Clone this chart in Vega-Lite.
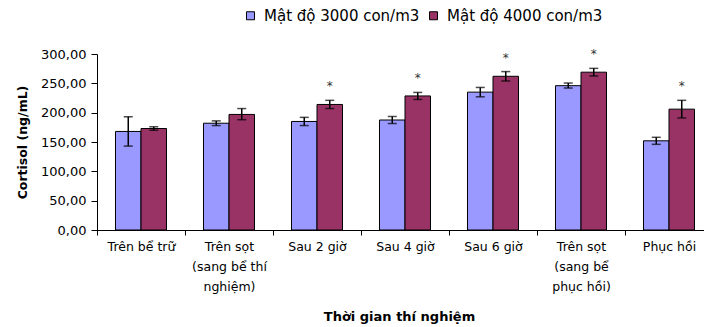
{
  "$schema": "https://vega.github.io/schema/vega-lite/v6.json",
  "width": 607,
  "height": 176,
  "autosize": {"type": "none"},
  "padding": {"left": 97, "top": 54, "right": 0, "bottom": 97},
  "background": "white",
  "config": {
    "view": {"stroke": null},
    "font": "DejaVu Sans",
    "axisY": {
      "grid": false,
      "domainColor": "black",
      "tickColor": "black",
      "tickSize": 6,
      "labelPadding": 5,
      "labelFontSize": 13,
      "labelColor": "black",
      "labelOverlap": false,
      "titleFontSize": 12.5,
      "titleFontWeight": "bold",
      "titleColor": "black",
      "titleX": -68,
      "titleY": 88
    }
  },
  "data": {
    "values": [
      {"time": "Trên bể trữ", "group": "Mật độ 3000 con/m3", "value": 168, "lo": 143, "hi": 193, "star": ""},
      {"time": "Trên bể trữ", "group": "Mật độ 4000 con/m3", "value": 173, "lo": 170, "hi": 176, "star": ""},
      {"time": "Trên sọt\n(sang bể thí\nnghiệm)", "group": "Mật độ 3000 con/m3", "value": 182, "lo": 178, "hi": 186, "star": ""},
      {"time": "Trên sọt\n(sang bể thí\nnghiệm)", "group": "Mật độ 4000 con/m3", "value": 197, "lo": 188, "hi": 207, "star": ""},
      {"time": "Sau 2 giờ", "group": "Mật độ 3000 con/m3", "value": 185, "lo": 178, "hi": 192, "star": ""},
      {"time": "Sau 2 giờ", "group": "Mật độ 4000 con/m3", "value": 214, "lo": 207, "hi": 221, "star": "*"},
      {"time": "Sau 4 giờ", "group": "Mật độ 3000 con/m3", "value": 187.5, "lo": 181.5, "hi": 193.5, "star": ""},
      {"time": "Sau 4 giờ", "group": "Mật độ 4000 con/m3", "value": 228.5, "lo": 222.5, "hi": 234.5, "star": "*"},
      {"time": "Sau 6 giờ", "group": "Mật độ 3000 con/m3", "value": 235, "lo": 227, "hi": 243, "star": ""},
      {"time": "Sau 6 giờ", "group": "Mật độ 4000 con/m3", "value": 262, "lo": 254, "hi": 270, "star": "*"},
      {"time": "Trên sọt\n(sang bể\nphục hồi)", "group": "Mật độ 3000 con/m3", "value": 246, "lo": 242, "hi": 250.5, "star": ""},
      {"time": "Trên sọt\n(sang bể\nphục hồi)", "group": "Mật độ 4000 con/m3", "value": 269, "lo": 262.5, "hi": 275.5, "star": "*"},
      {"time": "Phục hồi", "group": "Mật độ 3000 con/m3", "value": 152, "lo": 146, "hi": 158, "star": ""},
      {"time": "Phục hồi", "group": "Mật độ 4000 con/m3", "value": 206, "lo": 191, "hi": 221, "star": "*"}
    ]
  },
  "encoding": {
    "x": {
      "field": "time",
      "type": "nominal",
      "sort": null,
      "scale": {"range": [0, 616], "paddingInner": 0, "paddingOuter": 0},
      "axis": {
        "title": "Thời gian thí nghiệm",
        "labelAngle": 0,
        "labelExpr": "split(datum.label, '\\n')",
        "labelOverlap": false,
        "tickBand": "extent",
        "domainColor": "black",
        "tickColor": "black",
        "tickSize": 5,
        "labelFontSize": 12.5,
        "labelLineHeight": 20,
        "labelPadding": 5,
        "labelBaseline": "top",
        "labelColor": "black",
        "titleFontSize": 13,
        "titleFontWeight": "bold",
        "titleColor": "black",
        "titleX": 302,
        "titleY": 86,
        "titleBaseline": "middle"
      }
    },
    "xOffset": {"field": "group", "type": "nominal", "scale": {"paddingInner": 0, "paddingOuter": 0.725}}
  },
  "layer": [
    {
      "mark": {"type": "bar", "stroke": "black", "strokeWidth": 1},
      "encoding": {
        "y": {
          "field": "value",
          "type": "quantitative",
          "title": "Cortisol (ng/mL)",
          "scale": {"domain": [0, 300], "nice": false},
          "axis": {
            "values": [0, 50, 100, 150, 200, 250, 300],
            "labelExpr": "replace(format(datum.value, '.2f'), '.', ',')",
            "labelOverlap": false
          }
        },
        "color": {
          "field": "group",
          "type": "nominal",
          "scale": {"domain": ["Mật độ 3000 con/m3", "Mật độ 4000 con/m3"], "range": ["#9999FF", "#993366"]},
          "legend": {
            "orient": "none",
            "legendX": 146,
            "legendY": -46,
            "direction": "horizontal",
            "title": null,
            "symbolType": "square",
            "symbolSize": 64,
            "symbolStrokeColor": "black",
            "symbolStrokeWidth": 1,
            "symbolOpacity": 1,
            "labelFontSize": 15,
            "labelColor": "black",
            "labelOffset": 6,
            "columnPadding": 6
          }
        }
      }
    },
    {
      "mark": {"type": "rule", "color": "black", "strokeWidth": 1.5},
      "encoding": {
        "y": {"field": "lo", "type": "quantitative", "title": "Cortisol (ng/mL)",
          "axis": {"values": [0, 50, 100, 150, 200, 250, 300], "labelExpr": "replace(format(datum.value, '.2f'), '.', ',')", "labelOverlap": false}},
        "y2": {"field": "hi"}
      }
    },
    {
      "mark": {"type": "tick", "color": "black", "size": 9, "thickness": 1.5},
      "encoding": {"y": {"field": "hi", "type": "quantitative", "title": "Cortisol (ng/mL)",
        "axis": {"values": [0, 50, 100, 150, 200, 250, 300], "labelExpr": "replace(format(datum.value, '.2f'), '.', ',')", "labelOverlap": false}}}
    },
    {
      "mark": {"type": "tick", "color": "black", "size": 9, "thickness": 1.5},
      "encoding": {"y": {"field": "lo", "type": "quantitative", "title": "Cortisol (ng/mL)",
        "axis": {"values": [0, 50, 100, 150, 200, 250, 300], "labelExpr": "replace(format(datum.value, '.2f'), '.', ',')", "labelOverlap": false}}}
    },
    {
      "transform": [{"filter": "datum.star != ''"}],
      "mark": {"type": "text", "dy": -14, "fontSize": 12, "color": "#333333"},
      "encoding": {
        "y": {"field": "hi", "type": "quantitative", "title": "Cortisol (ng/mL)",
          "axis": {"values": [0, 50, 100, 150, 200, 250, 300], "labelExpr": "replace(format(datum.value, '.2f'), '.', ',')", "labelOverlap": false}},
        "text": {"field": "star"}
      }
    }
  ]
}
